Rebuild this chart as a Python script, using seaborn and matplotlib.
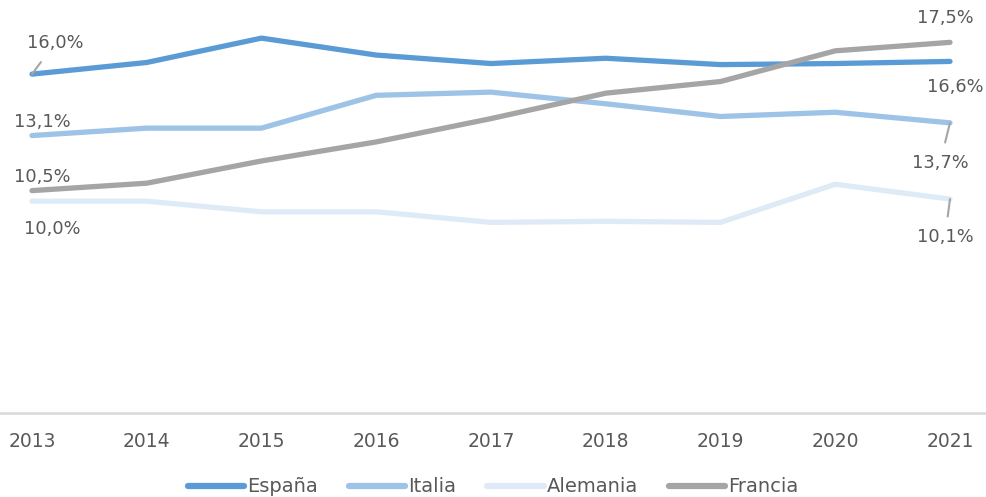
import pandas as pd
import matplotlib.pyplot as plt
import seaborn as sns

years = [2013, 2014, 2015, 2016, 2017, 2018, 2019, 2020, 2021]
espana = [16.0, 16.55, 17.7, 16.9, 16.5, 16.75, 16.45, 16.5, 16.6]
italia = [13.1, 13.45, 13.45, 15.0, 15.15, 14.6, 14.0, 14.2, 13.7]
alemania = [10.0, 10.0, 9.5, 9.5, 9.0, 9.05, 9.0, 10.8, 10.1]
francia = [10.5, 10.85, 11.9, 12.8, 13.9, 15.1, 15.65, 17.1, 17.5]
paises = ["España", "Italia", "Alemania", "Francia"]
colores = ["#5B9BD5", "#9DC3E6", "#DEEBF7", "#A5A5A5"]

df = pd.DataFrame({"year": years, "España": espana, "Italia": italia,
                   "Alemania": alemania, "Francia": francia})
df_long = df.melt(id_vars="year", var_name="pais", value_name="valor")

sns.set_style("white")
plt.rcParams["font.family"] = ["DejaVu Sans"]
txt = "#595959"

fig = plt.figure(figsize=(9.86, 4.97), dpi=100)
ax = fig.add_axes([0, 84 / 497, 1, 413 / 497])

sns.lineplot(data=df_long, x="year", y="valor", hue="pais", hue_order=paises,
             palette=colores, linewidth=3.8, ax=ax, solid_capstyle="round")

ax.set_xlim(2013 - 32 / 114.75, 2021 + 36 / 114.75)
ax.set_ylim(0, 19.5)
ax.set_xticks(years)
ax.set_xticklabels([str(y) for y in years], fontsize=13.5, color=txt)
ax.set_yticks([])
ax.tick_params(axis="x", length=0, pad=14)
ax.set_xlabel("")
ax.set_ylabel("")
for s in ["top", "left", "right"]:
    ax.spines[s].set_visible(False)
ax.spines["bottom"].set_color("#D9D9D9")
ax.spines["bottom"].set_linewidth(1.8)

# etiquetas de datos (inicio y fin)
etiquetas = [
    (2013, espana[0], (23, 31), True),
    (2013, italia[0], (10, 14), False),
    (2013, francia[0], (10, 14), False),
    (2013, alemania[0], (20, -28), False),
    (2021, francia[-1], (-5, 24), False),
    (2021, espana[-1], (5, -26), False),
    (2021, italia[-1], (-10, -40), True),
    (2021, alemania[-1], (-5, -38), True),
]
for x, v, off, linea in etiquetas:
    kw = {}
    if linea:
        kw["arrowprops"] = dict(arrowstyle="-", color="#A5A5A5", lw=1.5,
                                shrinkA=6, shrinkB=0)
    ax.annotate(f"{v:.1f}%".replace(".", ","), xy=(x, v), xytext=off,
                textcoords="offset pixels", ha="center", va="center",
                fontsize=12.8, color=txt, **kw)

sns.move_legend(ax, "center", bbox_to_anchor=(0.5, 10 / 497),
                bbox_transform=fig.transFigure, ncol=4, frameon=False,
                title=None, fontsize=14, handlelength=2.9,
                handletextpad=0.15, columnspacing=1.6)
for t in ax.get_legend().get_texts():
    t.set_color(txt)
for h in ax.get_legend().legend_handles:
    h.set_linewidth(4.5)

plt.savefig("out.png", dpi=100)
plt.close()
